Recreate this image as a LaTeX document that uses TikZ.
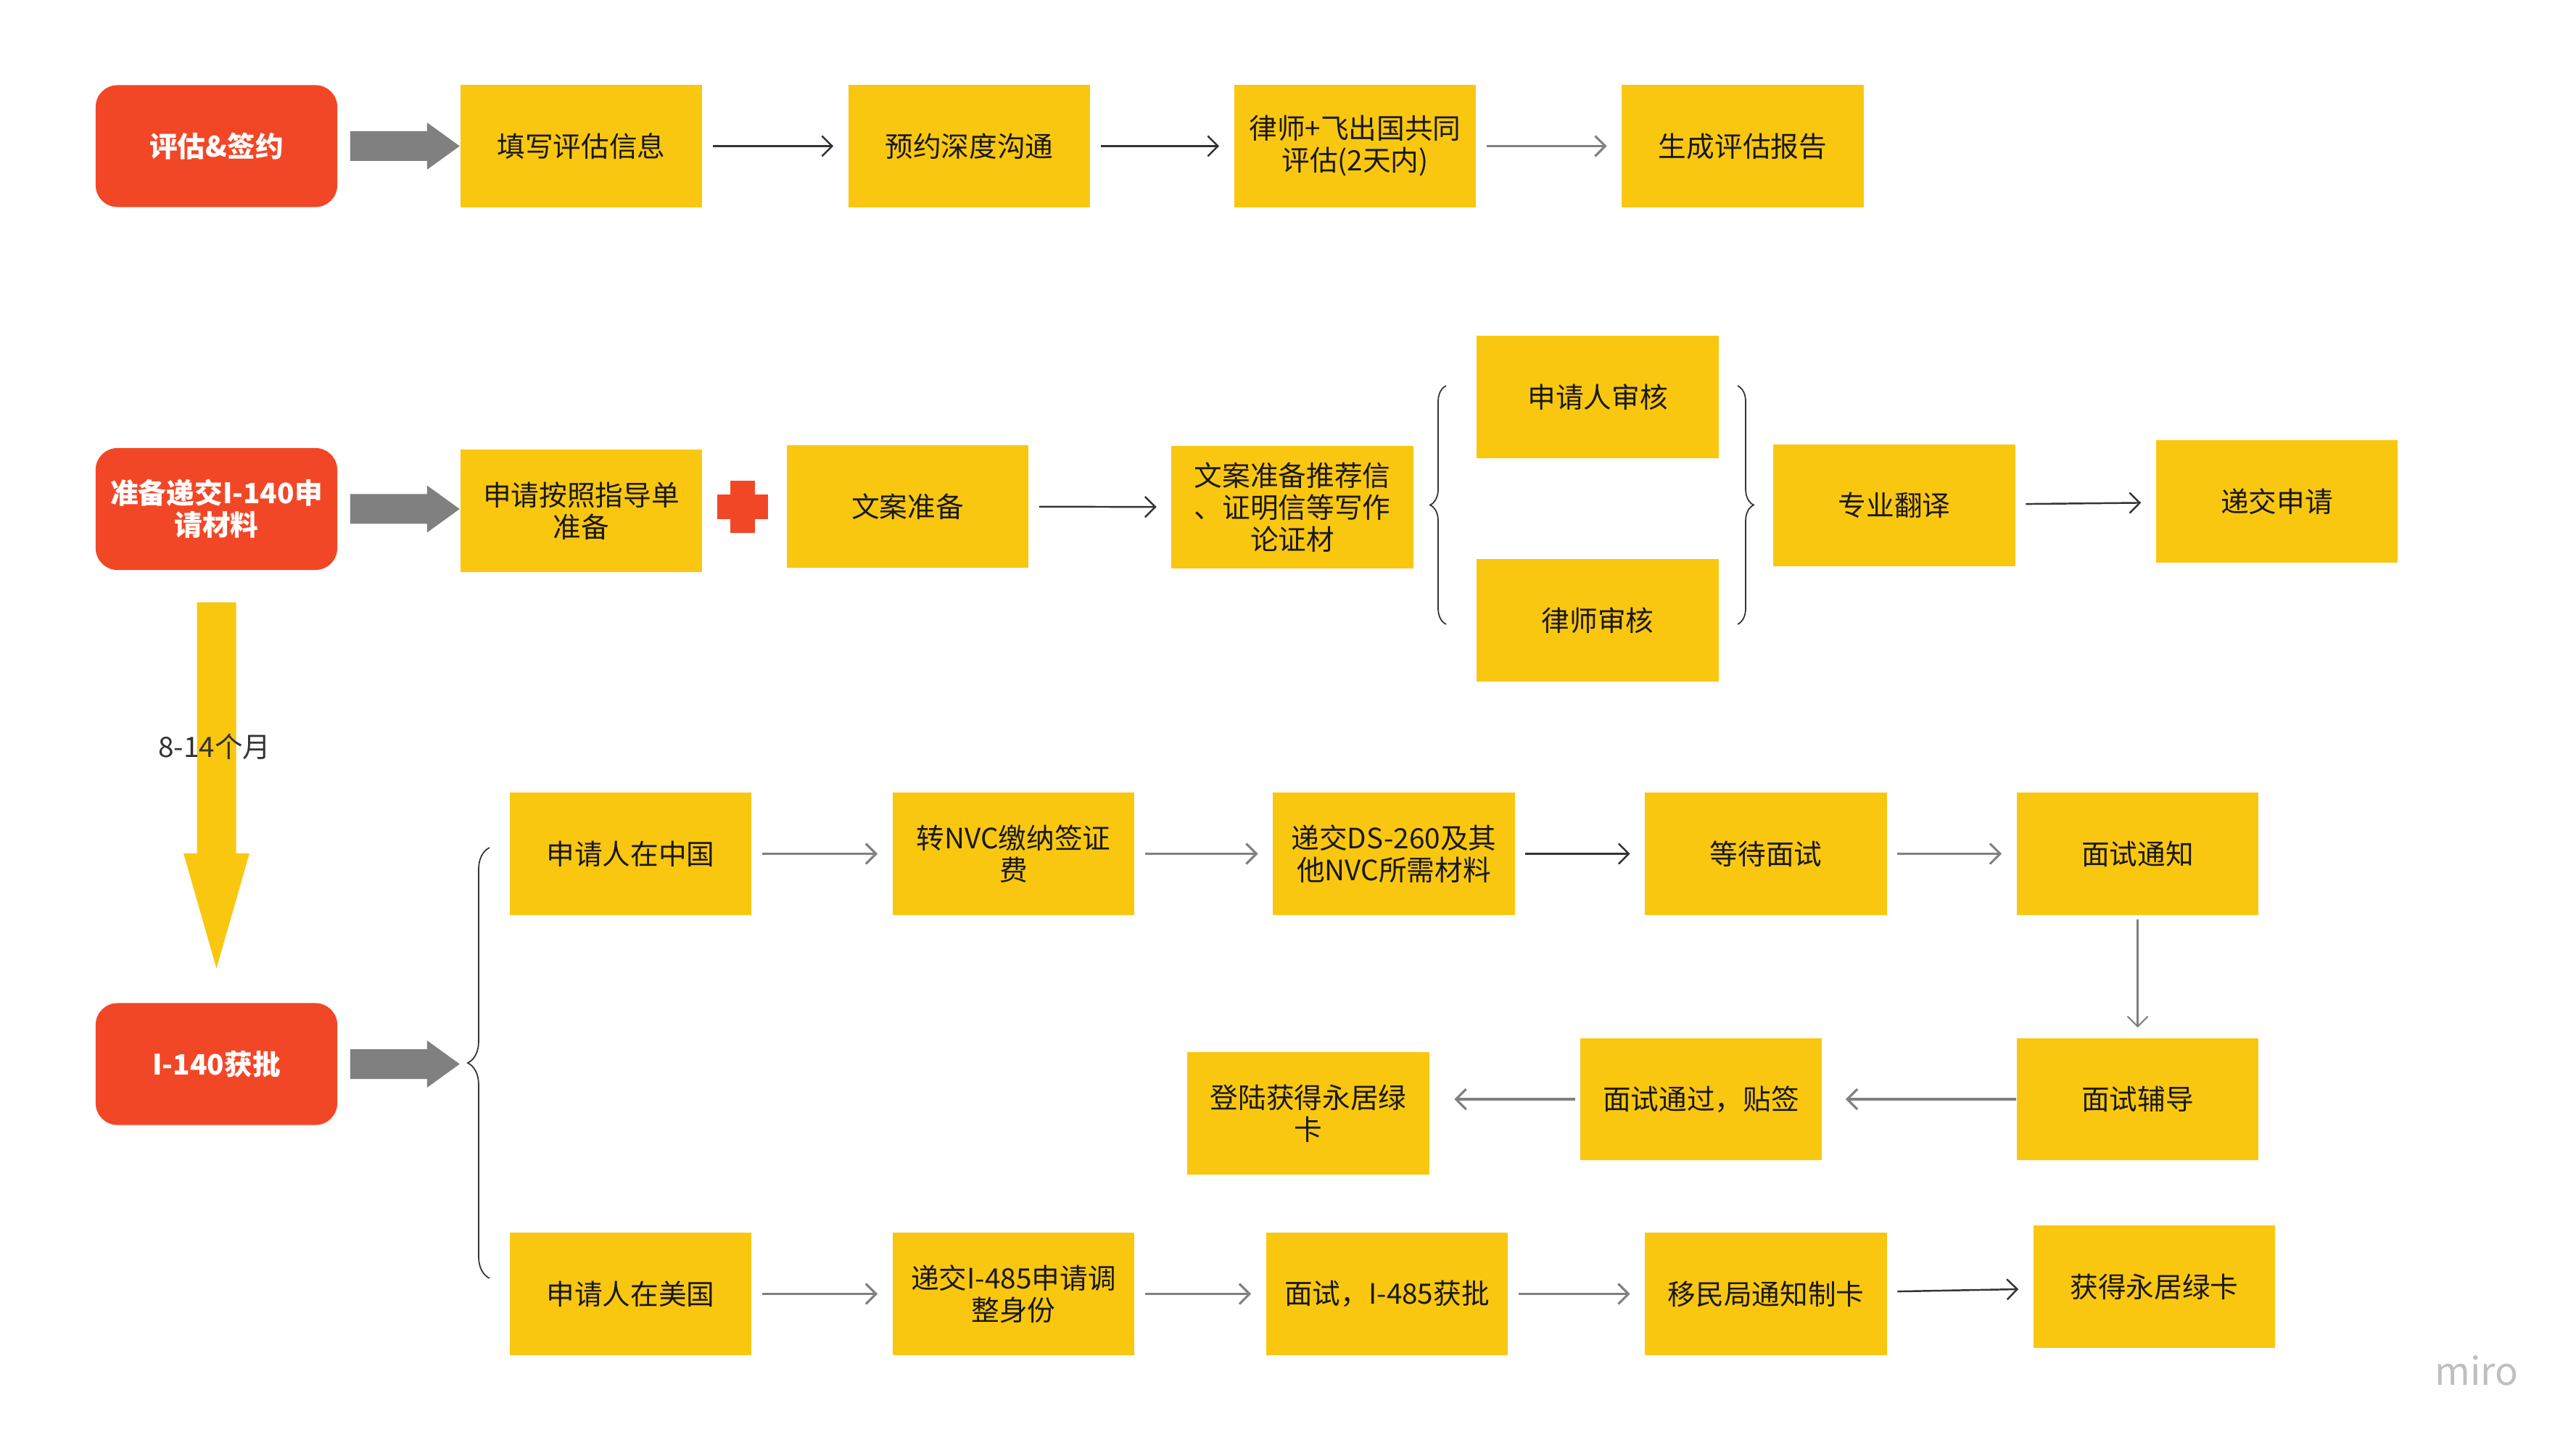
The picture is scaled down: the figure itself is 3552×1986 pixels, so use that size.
\documentclass[tikz,border=0pt]{standalone}
\usepackage{fontspec}
\setmainfont{Noto Sans CJK SC}
\usetikzlibrary{arrows.meta,calc,decorations.pathreplacing}
\definecolor{miroyellow}{HTML}{FAC710}
\definecolor{mirored}{HTML}{F24726}
\definecolor{linedark}{HTML}{333333}
\definecolor{linegray}{HTML}{808080}
\definecolor{fatgray}{HTML}{808080}

\begin{document}
\begin{tikzpicture}[x=0.01cm,y=-0.01cm,>={Straight Barb[length=4pt,width=8pt]}]
	\tikzstyle{every node}=[font=\fontsize{11}{12.5}\selectfont,align=center];
	\tikzstyle{redbox}=[rectangle,rounded corners=0.3cm,fill=mirored,text=white,font=\fontsize{11}{12.5}\selectfont\bfseries,minimum width=3.33cm,minimum height=1.68cm,inner sep=0pt];
	\tikzstyle{yellowbox}=[rectangle,fill=miroyellow,text=black!90,minimum width=3.33cm,minimum height=1.68cm,inner sep=0pt];
	\tikzstyle{flow}=[->,draw=linedark,line width=0.7pt,shorten <=0.14cm,shorten >=0.2cm];
	\tikzstyle{flowgray}=[flow,draw=linegray,line width=0.9pt];
	\tikzstyle{brace}=[decorate,decoration={brace,amplitude=0.22cm},draw=linedark,line width=0.5pt];
	\useasboundingbox (0,0) rectangle (3552,1986);

	% evaluation
	\node[redbox] (eval) at (298.5,201.5) {评估\&签约};
	\node[yellowbox] (info) at (801.5,201.5) {填写评估信息};
	\node[yellowbox] (book) at (1336.5,201.5) {预约深度沟通};
	\node[yellowbox] (lawyer) at (1868.5,201.5) {律师+飞出国共同\\评估(2天内)};
	\node[yellowbox] (report) at (2403,201.5) {生成评估报告};
	\draw[flow] (info) -- (book);
	\draw[flow] (book) -- (lawyer);
	\draw[flowgray] (lawyer) -- (report);

	% I-140 materials
	\node[redbox] (prep) at (298.5,702) {准备递交I-140申\\请材料};
	\node[yellowbox] (guide) at (801.5,704.5) {申请按照指导单\\准备};
	\node[yellowbox] (copy) at (1251.5,698.5) {文案准备};
	\node[yellowbox] (letters) at (1782,699.5) {文案准备推荐信\\、证明信等写作\\论证材};
	\node[yellowbox] (revself) at (2203,547.5) {申请人审核};
	\node[yellowbox] (revlaw) at (2203,855.5) {律师审核};
	\node[yellowbox] (transl) at (2612,697) {专业翻译};
	\node[yellowbox] (submit) at (3139.5,691.5) {递交申请};
	\coordinate (plus) at (1024,699);
	\fill[mirored] ($(plus)+(-17,-36)$) rectangle ($(plus)+(17,36)$);
	\fill[mirored] ($(plus)+(-35,-17)$) rectangle ($(plus)+(35,17)$);
	\draw[flow] (copy) -- (letters);
	\draw[brace] (1994,861) -- (1994,532);
	\draw[brace] (2396,532) -- (2396,861);
	\draw[flow] (transl) -- (submit);

	% waiting time
	\fill[miroyellow] ($(prep.south)+(-27,44)$) -- ++(54,0) -- ++(0,346) -- ++(18.5,0) -- ++(-45.5,159) -- ++(-45.5,-159) -- ++(18.5,0) -- cycle;
	\node[text=linedark] (wait8) at (296,1030) {8-14个月};

	% I-140 approved
	\node[redbox] (appr) at (298.5,1467.5) {I-140获批};
	\draw[brace,decoration={amplitude=0.3cm}] (675,1763) -- (675,1169);
	\node[yellowbox] (china) at (869.5,1177.5) {申请人在中国};
	\node[yellowbox] (nvc) at (1397.5,1177.5) {转NVC缴纳签证\\费};
	\node[yellowbox] (ds) at (1922,1177.5) {递交DS-260及其\\他NVC所需材料};
	\node[yellowbox] (waitint) at (2435,1177.5) {等待面试};
	\node[yellowbox] (notice) at (2947.5,1177.5) {面试通知};
	\node[yellowbox] (coach) at (2947.5,1516) {面试辅导};
	\node[yellowbox] (pass) at (2345.5,1516) {面试通过，贴签};
	\node[yellowbox] (land) at (1804,1535.5) {登陆获得永居绿\\卡};
	\draw[flowgray] (china) -- (nvc);
	\draw[flowgray] (nvc) -- (ds);
	\draw[flow] (ds) -- (waitint);
	\draw[flowgray] (waitint) -- (notice);
	\draw[flowgray,line width=0.6pt,shorten <=0.06cm,shorten >=0.14cm] (notice) -- (coach);
	\draw[flowgray,shorten <=0cm,shorten >=0.32cm] (coach) -- (pass);
	\draw[flowgray,shorten <=0.06cm,shorten >=0.34cm] (pass.west) -- (pass.west -| land.east);

	\node[yellowbox] (usa) at (869.5,1784.5) {申请人在美国};
	\node[yellowbox] (adjust) at (1397.5,1784.5) {递交I-485申请调\\整身份};
	\node[yellowbox] (interview) at (1912.5,1784.5) {面试，I-485获批};
	\node[yellowbox] (cardmade) at (2435,1784.5) {移民局通知制卡};
	\node[yellowbox] (green) at (2970.5,1774.5) {获得永居绿卡};
	\draw[flowgray] (usa) -- (adjust);
	\draw[flowgray] (adjust) -- (interview);
	\draw[flowgray] (interview) -- (cardmade);
	\draw[flow] (cardmade) -- (green);

	% fat arrows out of the red boxes
	\foreach \n in {eval,prep,appr}
		\fill[fatgray] ($(\n.east)+(17,-20.5)$) -- ++(106,0) -- ++(0,-12) -- ++(45,32.5) -- ++(-45,32.5) -- ++(0,-12) -- ++(-106,0) -- cycle;

	\node[text=black!25,font=\fontsize{15}{15}\selectfont] (logo) at (3415,1890) {miro};
\end{tikzpicture}
\end{document}
